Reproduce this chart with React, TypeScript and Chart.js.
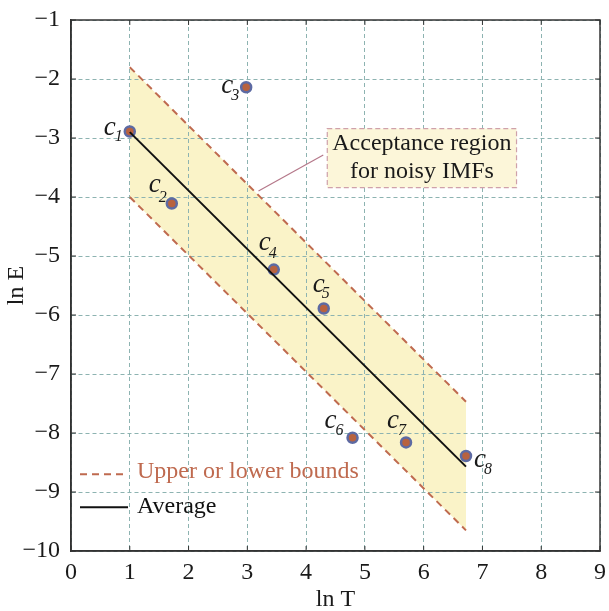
import React, { useEffect, useRef } from "react";
import { Chart, registerables } from "chart.js";

Chart.register(...registerables);

// ---- data ----
const xTicks = [0, 1, 2, 3, 4, 5, 6, 7, 8, 9];
const yTicks = [-10, -9, -8, -7, -6, -5, -4, -3, -2, -1];

const bandX = [1.0, 6.72];
const upperY = [-1.8, -7.47];
const lowerY = [-4.0, -9.65];
const averageY = [-2.9, -8.57];

const pointLabels = ["1", "2", "3", "4", "5", "6", "7", "8"];
const pointX = [1.0, 1.715, 2.98, 3.45, 4.3, 4.79, 5.7, 6.72];
const pointY = [-2.89, -4.11, -2.14, -5.23, -5.89, -8.08, -8.16, -8.39];

const legendLabels = ["Upper or lower bounds", "Average"];
const annotationLines = ["Acceptance region", "for noisy IMFs"];

// ---- style ----
const SERIF = "'Liberation Serif', 'Times New Roman', serif";
const BOUND_COLOR = "#bf6a4f";
const FILL_COLOR = "#faf3c8";
const GRID_COLOR = "#8db3b1";
const FRAME_COLOR = "#333333";
// label offsets (pixels relative to the point) for "c" and subscript
const labelOffsets = [
  [-20, -4, -11, 5],
  [-17, -19, -9, -6],
  [-19, -1, -11, 9],
  [-9, -27, -1, -16],
  [-5, -24, 2, -15],
  [-22, -17, -13, -7],
  [-13, -22, -4, -12],
  [14, 4, 22, 14],
];

const overlayPlugin = {
  id: "overlay",
  afterDatasetsDraw(chart: any) {
    const ctx = chart.ctx as CanvasRenderingContext2D;
    const xs = chart.scales.x;
    const ys = chart.scales.y;
    const area = chart.chartArea;

    // point labels
    const meta = chart.getDatasetMeta(3);
    ctx.save();
    ctx.fillStyle = "#1a1a1a";
    ctx.textAlign = "center";
    ctx.textBaseline = "middle";
    meta.data.forEach((el: any, i: number) => {
      const o = labelOffsets[i];
      ctx.font = `italic 27px ${SERIF}`;
      ctx.fillText("c", el.x + o[0], el.y + o[1]);
      ctx.font = `italic 16px ${SERIF}`;
      ctx.fillText(pointLabels[i], el.x + o[2], el.y + o[3]);
    });
    ctx.restore();

    // annotation box + connector (anchored to scale values)
    const bx0 = xs.getPixelForValue(4.36);
    const bx1 = xs.getPixelForValue(7.58);
    const by0 = ys.getPixelForValue(-2.84);
    const by1 = ys.getPixelForValue(-3.84);
    ctx.save();
    ctx.strokeStyle = "#b5788a";
    ctx.lineWidth = 1.2;
    ctx.beginPath();
    ctx.moveTo(bx0 - 4, (by0 + by1) / 2 - 3);
    ctx.lineTo(xs.getPixelForValue(3.19), ys.getPixelForValue(-3.9));
    ctx.stroke();
    ctx.fillStyle = "#fcf6d9";
    ctx.fillRect(bx0, by0, bx1 - bx0, by1 - by0);
    ctx.setLineDash([5, 3]);
    ctx.strokeStyle = "#cfa1aa";
    ctx.strokeRect(bx0, by0, bx1 - bx0, by1 - by0);
    ctx.setLineDash([]);
    ctx.fillStyle = "#1a1a1a";
    ctx.font = `24px ${SERIF}`;
    ctx.textAlign = "center";
    ctx.textBaseline = "middle";
    const cx = (bx0 + bx1) / 2;
    ctx.fillText(annotationLines[0], cx, by0 + 15);
    ctx.fillText(annotationLines[1], cx, by0 + 43);
    ctx.restore();

    // legend
    const lx = area.left + 9;
    const ly1 = ys.getPixelForValue(-8.7);
    const ly2 = ys.getPixelForValue(-9.26);
    ctx.save();
    ctx.lineWidth = 2;
    ctx.strokeStyle = BOUND_COLOR;
    ctx.setLineDash([7, 5]);
    ctx.beginPath();
    ctx.moveTo(lx, ly1);
    ctx.lineTo(lx + 48, ly1);
    ctx.stroke();
    ctx.setLineDash([]);
    ctx.strokeStyle = "#111";
    ctx.beginPath();
    ctx.moveTo(lx, ly2);
    ctx.lineTo(lx + 48, ly2);
    ctx.stroke();
    ctx.font = `24px ${SERIF}`;
    ctx.textBaseline = "middle";
    ctx.textAlign = "left";
    ctx.fillStyle = BOUND_COLOR;
    ctx.fillText(legendLabels[0], lx + 57, ly1 - 3);
    ctx.fillStyle = "#111";
    ctx.fillText(legendLabels[1], lx + 57, ly2 - 1);
    ctx.restore();
  },
  afterDraw(chart: any) {
    const ctx = chart.ctx as CanvasRenderingContext2D;
    const a = chart.chartArea;
    const xs = chart.scales.x;
    const ys = chart.scales.y;
    ctx.save();
    ctx.strokeStyle = FRAME_COLOR;
    ctx.lineWidth = 1.5;
    ctx.strokeRect(a.left, a.top, a.right - a.left, a.bottom - a.top);
    ctx.lineWidth = 1;
    ctx.beginPath();
    xTicks.forEach((v) => {
      const p = xs.getPixelForValue(v);
      ctx.moveTo(p, a.bottom);
      ctx.lineTo(p, a.bottom - 5);
      ctx.moveTo(p, a.top);
      ctx.lineTo(p, a.top + 5);
    });
    yTicks.forEach((v) => {
      const p = ys.getPixelForValue(v);
      ctx.moveTo(a.left, p);
      ctx.lineTo(a.left + 5, p);
      ctx.moveTo(a.right, p);
      ctx.lineTo(a.right - 5, p);
    });
    ctx.stroke();
    ctx.restore();
  },
};

export default function App() {
  const ref = useRef<HTMLCanvasElement>(null);
  useEffect(() => {
    if (!ref.current) return;
    const toPts = (xs: number[], ys: number[]) => xs.map((x, i) => ({ x, y: ys[i] }));
    const chart = new Chart(ref.current, {
      type: "scatter",
      data: {
        datasets: [
          {
            label: "upper",
            data: toPts(bandX, upperY),
            showLine: true,
            borderColor: BOUND_COLOR,
            borderWidth: 2,
            borderDash: [7, 5],
            pointRadius: 0,
            fill: "+1",
            backgroundColor: FILL_COLOR,
          },
          {
            label: "lower",
            data: toPts(bandX, lowerY),
            showLine: true,
            borderColor: BOUND_COLOR,
            borderWidth: 2,
            borderDash: [7, 5],
            pointRadius: 0,
            fill: false,
          },
          {
            label: "average",
            data: toPts(bandX, averageY),
            showLine: true,
            borderColor: "#111",
            borderWidth: 2,
            pointRadius: 0,
            fill: false,
          },
          {
            label: "IMFs",
            data: toPts(pointX, pointY),
            showLine: false,
            pointRadius: 5,
            borderWidth: 2.5,
            borderColor: "#5d6aa3",
            backgroundColor: "#b8623f",
          },
        ],
      },
      options: {
        animation: false,
        responsive: false,
        layout: { padding: { left: 0, right: 9, top: 20, bottom: 0 } },
        plugins: {
          legend: { display: false },
          tooltip: { enabled: false },
          filler: { drawTime: "beforeDraw" } as any,
        },
        scales: {
          x: {
            type: "linear",
            min: 0,
            max: 9,
            afterFit: (s: any) => {
              s.height = 60;
              s.paddingLeft = 0;
              s.paddingRight = 0;
            },
            afterBuildTicks: (s: any) => {
              s.ticks = xTicks.map((v) => ({ value: v }));
            },
            ticks: {
              font: { family: SERIF, size: 24 },
              color: "#1a1a1a",
              padding: 7,
              maxRotation: 0,
            },
            grid: {
              color: GRID_COLOR,
              lineWidth: 1,
              drawTicks: false,
            },
            border: { display: true, color: FRAME_COLOR, width: 1.5, dash: [4, 3] } as any,
            title: {
              display: true,
              text: "ln T",
              font: { family: SERIF, size: 24 },
              color: "#1a1a1a",
              padding: { top: 0, bottom: -3 },
            },
          },
          y: {
            type: "linear",
            min: -10,
            max: -1,
            afterFit: (s: any) => {
              s.width = 71;
              s.paddingTop = 0;
              s.paddingBottom = 0;
            },
            afterBuildTicks: (s: any) => {
              s.ticks = yTicks.map((v) => ({ value: v }));
            },
            ticks: {
              font: { family: SERIF, size: 24 },
              color: "#1a1a1a",
              padding: 11,
              callback: (v: any) => (Number(v) < 0 ? "\u2212" + Math.abs(Number(v)) : String(v)),
            },
            grid: {
              color: GRID_COLOR,
              lineWidth: 1,
              drawTicks: false,
            },
            border: { display: true, color: FRAME_COLOR, width: 1.5, dash: [4, 3] } as any,
            title: {
              display: true,
              text: "ln E",
              font: { family: SERIF, size: 24 },
              color: "#1a1a1a",
              padding: { top: 2, bottom: 0 },
            },
          },
        },
      },
      plugins: [overlayPlugin],
    });
    return () => chart.destroy();
  }, []);
  return (
    <div style={{ position: "absolute", left: 0, top: 0, width: 609, height: 611, background: "#fff" }}>
      <canvas ref={ref} width={609} height={611} style={{ width: 609, height: 611 }} />
    </div>
  );
}
